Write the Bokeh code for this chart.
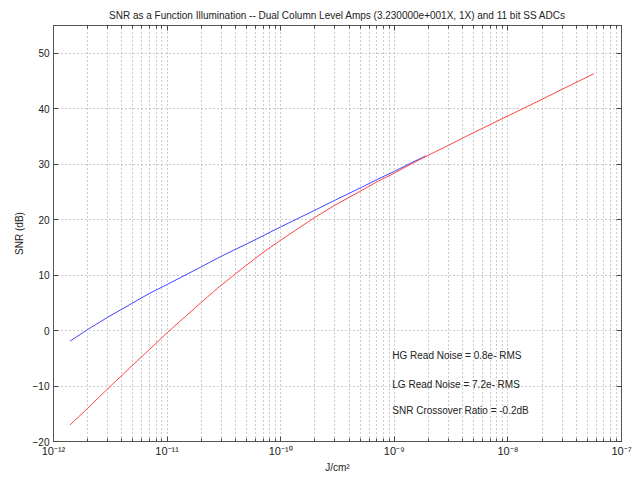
from bokeh.plotting import figure
from bokeh.models import (FixedTicker, LogAxis, LinearAxis, Label, CustomJSTickFormatter,
                          Range1d)
from bokeh.embed import file_html
from bokeh.resources import INLINE

# ---- data ----
hg_illum = [1.4e-12, 2e-12, 3e-12, 5e-12, 7e-12, 1e-11, 2e-11, 3e-11, 5e-11, 7e-11,
            1e-10, 2e-10, 3e-10, 5e-10, 7e-10, 1e-9, 1.4e-9, 1.9e-9]
hg_snr = [-1.9, 0.2, 2.4, 5.0, 6.7, 8.3, 11.5, 13.4, 15.6, 17.1,
          18.7, 21.7, 23.5, 25.7, 27.2, 28.7, 30.2, 31.5]

lg_illum = [1.4e-12, 2e-12, 3e-12, 5e-12, 7e-12, 1e-11, 2e-11, 3e-11, 5e-11, 7e-11,
            1e-10, 2e-10, 3e-10, 5e-10, 7e-10, 1e-9, 1.4e-9, 1.9e-9, 3e-9, 5e-9,
            1e-8, 2e-8, 3e-8, 5.7e-8]
lg_snr = [-17.0, -14.0, -10.5, -6.2, -3.4, -0.4, 5.1, 8.2, 11.8, 14.1,
          16.3, 20.4, 22.6, 25.1, 26.8, 28.4, 30.0, 31.4, 33.4, 35.7,
          38.7, 41.7, 43.5, 46.3]

y_ticks = [-20, -10, 0, 10, 20, 30, 40, 50]
x_major = [1e-12, 1e-11, 1e-10, 1e-9, 1e-8, 1e-7]
x_minor = [m * d for d in x_major[:-1] for m in range(2, 10)]

title = ("SNR as a Function Illumination -- Dual Column Level Amps "
         "(3.230000e+001X, 1X) and 11 bit SS ADCs")
notes = ["HG Read Noise = 0.8e- RMS", "LG Read Noise = 7.2e- RMS",
         "SNR Crossover Ratio = -0.2dB"]

FONT = "Liberation Sans"
TXT = "#222222"
FS = "10px"

p = figure(width=636, height=478, x_axis_type="log",
           x_range=Range1d(1e-12, 1e-7), y_range=Range1d(-20, 55),
           output_backend="svg", toolbar_location=None,
           min_border_left=53, min_border_right=15, min_border_top=25,
           min_border_bottom=37, x_axis_label="J/cm²", y_axis_label="SNR (dB)")
p.background_fill_color = "white"
p.border_fill_color = "white"
p.outline_line_color = "#555555"

p.title.text = title
p.title.text_font = FONT
p.title.text_font_size = FS
p.title.text_font_style = "normal"
p.title.text_color = TXT
p.title.align = "center"

sup_js = """
const e = Math.round(Math.log10(tick));
const sup = {'-':'\u207b','0':'\u2070','1':'\u00b9','2':'\u00b2','3':'\u00b3','4':'\u2074',
             '5':'\u2075','6':'\u2076','7':'\u2077','8':'\u2078','9':'\u2079'};
return '10' + String(e).split('').map(c => sup[c]).join('');
"""

xt = FixedTicker(ticks=x_major, minor_ticks=x_minor)
yt = FixedTicker(ticks=y_ticks)

for ax in p.xaxis:
    ax.ticker = xt
    ax.formatter = CustomJSTickFormatter(code=sup_js)
for ax in p.yaxis:
    ax.ticker = yt

def style(ax):
    ax.axis_line_color = "#555555"
    ax.major_tick_line_color = "#444444"
    ax.minor_tick_line_color = "#444444"
    ax.major_tick_in = 5
    ax.major_tick_out = 0
    ax.minor_tick_in = 3
    ax.minor_tick_out = 0
    ax.major_label_text_font = FONT
    ax.major_label_text_font_size = FS
    ax.major_label_text_color = TXT
    ax.axis_label_text_font = FONT
    ax.axis_label_text_font_size = FS
    ax.axis_label_text_font_style = "normal"
    ax.axis_label_text_color = TXT

for ax in p.xaxis + p.yaxis:
    style(ax)
p.xaxis.major_label_text_font_size = "11px"
p.xaxis.major_label_standoff = 3
p.xaxis.axis_label_standoff = 2
p.yaxis.major_label_standoff = 4
p.yaxis.axis_label_standoff = 5

top = LogAxis(ticker=xt, major_label_text_font_size="0px",
              formatter=CustomJSTickFormatter(code="return '';"))
right = LinearAxis(ticker=yt, major_label_text_font_size="0px",
                   formatter=CustomJSTickFormatter(code="return '';"))
for ax in (top, right):
    style(ax)
    ax.major_label_text_font_size = "0px"
    ax.major_label_standoff = 0
p.add_layout(top, "above")
p.add_layout(right, "right")

p.xgrid.ticker = xt
p.ygrid.ticker = yt
for g in (p.xgrid, p.ygrid):
    g.grid_line_color = "#999999"
    g.grid_line_dash = "1 3"
    g.grid_line_width = 1
p.xgrid.minor_grid_line_color = "#999999"
p.xgrid.minor_grid_line_dash = "1 3"

p.line(hg_illum, hg_snr, line_color="#4444ff", line_width=1)
p.line(lg_illum, lg_snr, line_color="#ff4444", line_width=1)

for txt, yv in zip(notes, [-4.5, -9.7, -14.4]):
    p.add_layout(Label(x=9.6e-10, y=yv, text=txt, text_font=FONT, text_font_size=FS,
                       text_color=TXT, text_baseline="middle", text_align="left"))

open("out.html", "w").write(file_html(p, INLINE))
